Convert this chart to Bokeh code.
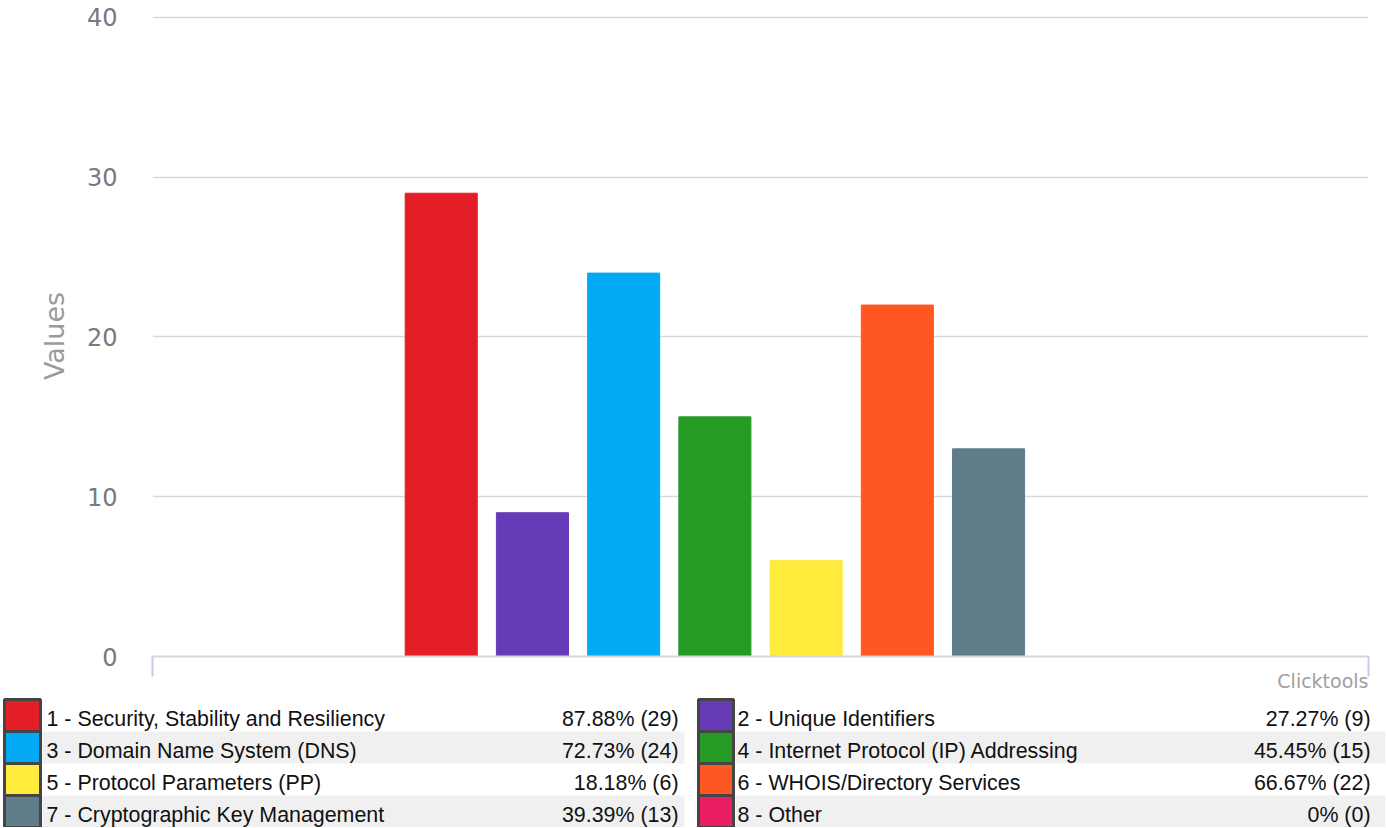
from bokeh.plotting import figure
from bokeh.layouts import column
from bokeh.models import Range1d, FixedTicker, ColumnDataSource, Title
from bokeh.core.properties import value
from bokeh.embed import file_html
from bokeh.resources import INLINE

# ---------------- data ----------------
categories = ["1 - Security, Stability and Resiliency", "2 - Unique Identifiers",
              "3 - Domain Name System (DNS)", "4 - Internet Protocol (IP) Addressing",
              "5 - Protocol Parameters (PP)", "6 - WHOIS/Directory Services",
              "7 - Cryptographic Key Management", "8 - Other"]
counts = [29, 9, 24, 15, 6, 22, 13, 0]
percent_labels = ["87.88% (29)", "27.27% (9)", "72.73% (24)", "45.45% (15)",
                  "18.18% (6)", "66.67% (22)", "39.39% (13)", "0% (0)"]
colors = ["#E41E26", "#673AB7", "#03A9F4", "#259B24",
          "#FFEB3B", "#FF5722", "#607D8B", "#E91E63"]
y_ticks = [0, 10, 20, 30, 40]

# ---------------- chart ----------------
W = 1385
CH = 690
idx = list(range(len(categories)))
x_lo, x_hi = -3.165, 10.165

p = figure(width=W, height=CH, output_backend="svg", toolbar_location=None,
           x_range=Range1d(x_lo, x_hi), y_range=Range1d(0, 40.125),
           min_border_left=152, min_border_right=W - 1368, min_border_top=15,
           min_border_bottom=34)
p.outline_line_color = None
p.background_fill_color = "white"
p.border_fill_color = "white"
p.frame_align = False

src = ColumnDataSource(dict(x=idx, top=counts, color=colors))
p.vbar(x="x", top="top", width=0.79, color="color", source=src)

# y axis
ya = p.yaxis[0]
ya.ticker = FixedTicker(ticks=y_ticks)
ya.axis_line_color = None
ya.major_tick_line_color = None
ya.minor_tick_line_color = None
ya.major_tick_out = 0
ya.major_tick_in = 0
ya.major_label_standoff = 35
ya.major_label_text_font = "DejaVu Sans"
ya.major_label_text_font_size = "24px"
ya.major_label_text_color = "#7a7a7a"
ya.axis_label = "Values"
ya.axis_label_text_font = "DejaVu Sans"
ya.axis_label_text_font_style = "normal"
ya.axis_label_text_font_size = "27px"
ya.axis_label_text_color = "#9a9a9a"
ya.axis_label_standoff = 14

# x axis
xa = p.xaxis[0]
xa.ticker = FixedTicker(ticks=[x_lo, x_hi])
xa.axis_line_color = "#d6d6d6"
xa.axis_line_width = 2
xa.major_tick_line_color = "#C0D0E0"
xa.major_tick_line_width = 2
xa.major_tick_out = 20
xa.major_tick_in = 0
xa.minor_tick_line_color = None
xa.major_label_overrides = {x_lo: "", x_hi: ""}
xa.major_label_text_font_size = "1px"
xa.major_label_standoff = 0

p.add_layout(Title(text="Clicktools", align="right", standoff=-30,
                   text_font="DejaVu Sans", text_font_style="normal",
                   text_font_size="19px", text_color="#a0a0a0"), "below")

p.xgrid.grid_line_color = None
p.ygrid.ticker = FixedTicker(ticks=y_ticks[1:])
p.ygrid.grid_line_color = "#d9d9d9"
p.ygrid.grid_line_width = 1.5

# ---------------- legend table ----------------
LH = 137
lg = figure(width=W, height=LH, output_backend="svg", toolbar_location=None,
            x_range=Range1d(0, W), y_range=Range1d(LH, 0),
            min_border=0)
lg.axis.visible = False
lg.grid.visible = False
lg.outline_line_color = None
lg.border_fill_color = "white"
lg.background_fill_color = "white"
lg.frame_align = False

pitch = 32
first_center = 28          # figure-space y of first text row
col_swatch_l = [4, 698]
col_swatch_r = [40, 733]
col_band_l = [42, 735]
col_band_r = [684, W]
col_text_l = [46, 737]
col_text_r = [678, 1370]

bands = dict(left=[], right=[], top=[], bottom=[])
sw = dict(left=[], right=[], top=[], bottom=[], color=[])
lab = dict(x=[], y=[], text=[])
pct = dict(x=[], y=[], text=[])
for i, (name, pl, c) in enumerate(zip(categories, percent_labels, colors)):
    col = i % 2
    row = i // 2
    yc = first_center + row * pitch
    if row % 2 == 1:
        bands["left"].append(col_band_l[col]); bands["right"].append(col_band_r[col])
        bands["top"].append(yc - 19); bands["bottom"].append(yc + 13)
    sw["left"].append(col_swatch_l[col]); sw["right"].append(col_swatch_r[col])
    sw["top"].append(yc - 19); sw["bottom"].append(yc + 13); sw["color"].append(c)
    lab["x"].append(col_text_l[col]); lab["y"].append(yc); lab["text"].append(name)
    pct["x"].append(col_text_r[col]); pct["y"].append(yc); pct["text"].append(pl)

lg.quad(left="left", right="right", top="top", bottom="bottom",
        source=ColumnDataSource(bands), fill_color="#f0f0f0", line_color=None)
lg.quad(left="left", right="right", top="top", bottom="bottom",
        source=ColumnDataSource(sw), fill_color="color", line_color="#454545",
        line_width=3)
lg.text(x="x", y="y", text="text", source=ColumnDataSource(lab),
        text_font=value("Liberation Sans"), text_font_size="21.4px",
        text_baseline="middle", text_align="left", text_color="#111111")
lg.text(x="x", y="y", text="text", source=ColumnDataSource(pct),
        text_font=value("Liberation Sans"), text_font_size="21.4px",
        text_baseline="middle", text_align="right", text_color="#111111")

layout = column(p, lg, spacing=0)
open("out.html", "w").write(file_html(layout, INLINE))
